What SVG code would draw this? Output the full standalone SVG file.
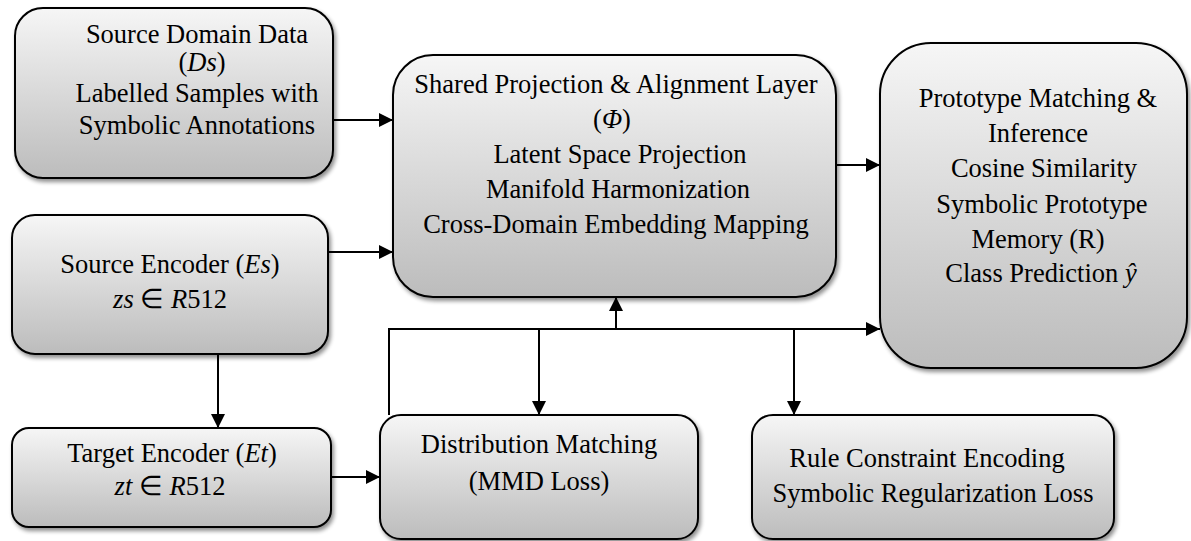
<svg xmlns="http://www.w3.org/2000/svg" width="1191" height="541" viewBox="0 0 1191 541">
  <defs>
    <linearGradient id="boxFill" x1="0" y1="0" x2="0" y2="1">
      <stop offset="0" stop-color="#f6f6f6"/>
      <stop offset="1" stop-color="#bcbcbc"/>
    </linearGradient>
    <filter id="shadow" x="-10%" y="-10%" width="125%" height="130%">
      <feGaussianBlur in="SourceAlpha" stdDeviation="2.2"/>
      <feOffset dx="2" dy="3" result="blur"/>
      <feComponentTransfer><feFuncA type="linear" slope="0.45"/></feComponentTransfer>
      <feMerge><feMergeNode/><feMergeNode in="SourceGraphic"/></feMerge>
    </filter>
    <marker id="arrow" markerUnits="userSpaceOnUse" markerWidth="14" markerHeight="14" refX="14" refY="7" orient="auto">
      <path d="M0,0 L14,7 L0,14 Z" fill="#000"/>
    </marker>
  </defs>
  <style>
    .box { fill: url(#boxFill); stroke: #000; stroke-width: 2; filter: url(#shadow); }
    .lbl { font-family: "Liberation Serif", "Times New Roman", serif; font-size: 26.5px; fill: #000; text-anchor: middle; }
    .m { font-style: italic; }
    .wire { fill: none; stroke: #000; stroke-width: 2; }
    .arr { marker-end: url(#arrow); }
  </style>

  <!-- connectors -->
  <g id="connectors">
    <path class="wire arr" d="M333,120 H393"/>
    <path class="wire arr" d="M328,252 H393"/>
    <path class="wire arr" d="M836,165 H880"/>
    <path class="wire arr" d="M218,354 V428"/>
    <path class="wire arr" d="M331,477 H380"/>
    <path class="wire arr" d="M389,415 V329 H880"/>
    <path class="wire arr" d="M616,329 V297"/>
    <path class="wire arr" d="M539,329 V415"/>
    <path class="wire arr" d="M794,329 V415"/>
  </g>

  <g id="source-domain-data">
    <rect class="box" x="15" y="8" width="318" height="170" rx="28"/>
    <text class="lbl" x="197" y="43">Source Domain Data</text>
    <text class="lbl" x="202" y="71">(<tspan class="m">Ds</tspan>)</text>
    <text class="lbl" x="197" y="102">Labelled Samples with</text>
    <text class="lbl" x="197" y="134">Symbolic Annotations</text>
  </g>

  <g id="shared-projection">
    <rect class="box" x="393" y="55" width="443" height="242" rx="40"/>
    <text class="lbl" x="616" y="93">Shared Projection &amp; Alignment Layer</text>
    <text class="lbl" x="612" y="128">(<tspan class="m">Φ</tspan>)</text>
    <text class="lbl" x="620" y="163">Latent Space Projection</text>
    <text class="lbl" x="618" y="198">Manifold Harmonization</text>
    <text class="lbl" x="616" y="233">Cross-Domain Embedding Mapping</text>
  </g>

  <g id="prototype-matching">
    <rect class="box" x="880" y="43" width="307" height="325" rx="51"/>
    <text class="lbl" x="1038" y="107">Prototype Matching &amp;</text>
    <text class="lbl" x="1038" y="142">Inference</text>
    <text class="lbl" x="1044" y="177">Cosine Similarity</text>
    <text class="lbl" x="1042" y="213">Symbolic Prototype</text>
    <text class="lbl" x="1038" y="248">Memory (R)</text>
    <text class="lbl" x="1041" y="282">Class Prediction <tspan class="m">ŷ</tspan></text>
  </g>

  <g id="source-encoder">
    <rect class="box" x="12" y="215" width="316" height="139" rx="23"/>
    <text class="lbl" x="170" y="273">Source Encoder (<tspan class="m">Es</tspan>)</text>
    <text class="lbl" x="170" y="308"><tspan class="m">zs</tspan> ∈ <tspan class="m">R</tspan>512</text>
  </g>

  <g id="target-encoder">
    <rect class="box" x="12" y="428" width="319" height="99" rx="17"/>
    <text class="lbl" x="172" y="462">Target Encoder (<tspan class="m">Et</tspan>)</text>
    <text class="lbl" x="170" y="495"><tspan class="m">zt</tspan> ∈ <tspan class="m">R</tspan>512</text>
  </g>

  <g id="distribution-matching">
    <rect class="box" x="380" y="415" width="318" height="124" rx="21"/>
    <text class="lbl" x="539" y="453">Distribution Matching</text>
    <text class="lbl" x="539" y="490">(MMD Loss)</text>
  </g>

  <g id="rule-constraint">
    <rect class="box" x="752" y="415" width="362" height="124" rx="21"/>
    <text class="lbl" x="927" y="467">Rule Constraint Encoding</text>
    <text class="lbl" x="933" y="502">Symbolic Regularization Loss</text>
  </g>
</svg>
